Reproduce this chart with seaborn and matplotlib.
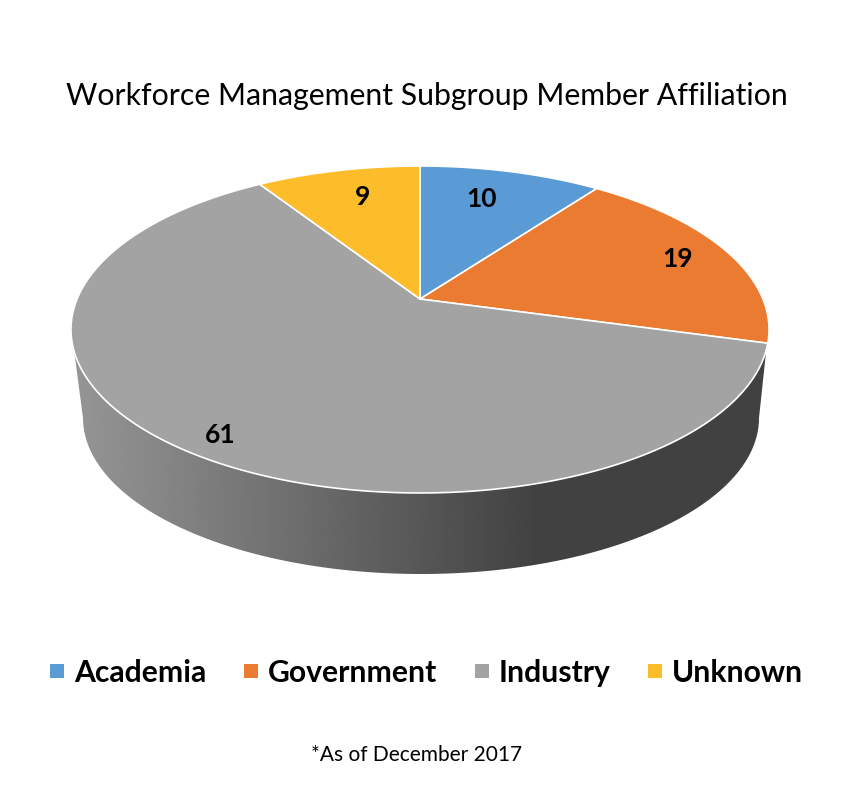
import numpy as np
import matplotlib
matplotlib.use("Agg")
import matplotlib.pyplot as plt
from matplotlib.lines import Line2D
from matplotlib.patches import Polygon
import seaborn as sns

# ---- data ----
categories = ["Academia", "Government", "Industry", "Unknown"]
values = [10, 19, 61, 9]
colors = ["#5B9BD5", "#EB7B30", "#A3A3A3", "#FDBD2B"]
title = "Workforce Management Subgroup Member Affiliation"
note = "*As of December 2017"

# ---- layout (pixels) ----
W, H = 849, 789
APEX = (420, 299)
A, B, K = 342.9, 157.8, 0.1865       # projective squash of the unit pie
BASE = (421, 418, 338, 156)          # cx, cy, a, b of the lower rim
LABEL_XY = [(482, 199), (678, 259), (220, 435), (363, 197)]

sns.set_theme(style="white")
plt.rcParams["font.family"] = ["Lato", "DejaVu Sans"]


def project(theta):
    """Clockwise angle from 12 o'clock on the unit pie -> pixel on the tilted top."""
    u, v = np.sin(theta), np.cos(theta)
    d = 1 + K * v
    return APEX[0] + A * u / d, APEX[1] - B * v / d


fig = plt.figure(figsize=(W / 100, H / 100), dpi=100)
ax = fig.add_axes([0, 0, 1, 1])

# side wall with horizontal shading
t = np.linspace(0, np.pi, 200)
bx = BASE[0] - BASE[2] * np.cos(t)
by = BASE[1] + BASE[3] * np.sin(t)
rim = np.linspace(np.deg2rad(251.6), np.deg2rad(107.8), 200)   # along the front of the top face
rx, ry = project(rim)
wall = np.column_stack([np.r_[rx, bx[::-1]], np.r_[ry, by[::-1]]])
wall_patch = Polygon(wall, closed=True, fc="none", ec="none")
ax.add_patch(wall_patch)
xs = np.arange(W)
shade = np.clip(150 - (xs - 73) * 85 / 467, 65, 150)[None, :] / 255
im = ax.imshow(shade, cmap="gray", vmin=0, vmax=1, extent=(0, W, 600, 300),
               aspect="auto", zorder=1, interpolation="bilinear")
im.set_clip_path(wall_patch)

# top face wedges, angles from the values
edges = np.r_[0, np.cumsum(values)] / np.sum(values) * 2 * np.pi
for i, c in enumerate(colors):
    th = np.linspace(edges[i], edges[i + 1], 240)
    x, y = project(th)
    ax.fill(np.r_[APEX[0], x], np.r_[APEX[1], y], fc=c, ec="white", lw=1.2,
            joinstyle="round", zorder=2)

for v, (x, y) in zip(values, LABEL_XY):
    ax.text(x, y, str(v), ha="center", va="center", fontsize=19, fontweight="bold",
            color="black", zorder=3)

ax.set_xlim(0, W)
ax.set_ylim(H, 0)
ax.axis("off")

ax.text(426.5, 96, title, ha="center", va="center", fontsize=21.8, color="black")
ax.text(417, 755, note, ha="center", va="center", fontsize=15, color="black")

handles = [Line2D([], [], ls="none", marker="s", ms=9.4, mfc=c, mec=c, mew=0) for c in colors]
leg = ax.legend(handles, categories, ncol=4, loc="center", bbox_to_anchor=(426.5 / W, 1 - 673 / H),
                frameon=False, handlelength=0.5, handletextpad=0.32, columnspacing=1.22,
                labelcolor="black",
                prop={"family": "Lato", "weight": "bold", "size": 21.7})

fig.savefig("out.png", dpi=100, facecolor="white")
